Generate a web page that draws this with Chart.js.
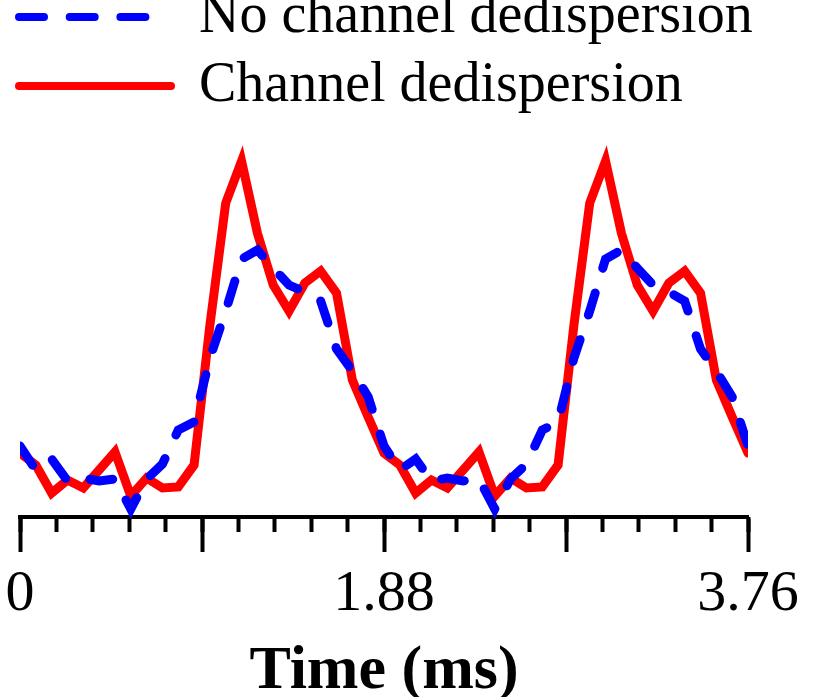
<!DOCTYPE html>
<html>
<head>
<meta charset="utf-8">
<script src="https://cdn.jsdelivr.net/npm/chart.js@4"></script>
<style>
  html, body { margin: 0; padding: 0; background: #fff; overflow: hidden; }
  #wrap { position: absolute; left: 0; top: -24px; width: 830px; height: 733px; }
</style>
</head>
<body>
<div id="wrap"><canvas id="chart"></canvas></div>
<script>
  // time bins (ms), 23 bins per 1.88 ms period, two periods shown
  const times = [
    0, 0.0817, 0.1635, 0.2452, 0.3270, 0.4087, 0.4904, 0.5722, 0.6539, 0.7357, 0.8174, 0.8991,
    0.9809, 1.0626, 1.1443, 1.2261, 1.3078, 1.3896, 1.4713, 1.5530, 1.6348, 1.7165, 1.7983,
    1.88, 1.9617, 2.0435, 2.1252, 2.2070, 2.2887, 2.3704, 2.4522, 2.5339, 2.6157, 2.6974, 2.7791,
    2.8609, 2.9426, 3.0243, 3.1061, 3.1878, 3.2696, 3.3513, 3.4330, 3.5148, 3.5965, 3.6783, 3.76
  ];

  // intensity, arbitrary units
  const noDedisp = [
    0.71, 0.47, 0.58, 0.36, 0.39, 0.36, 0.38, 0.08, 0.38, 0.53, 0.87, 0.95,
    1.59, 2.06, 2.58, 2.67, 2.49, 2.32, 2.25, 2.16, 1.68, 1.46, 1.20,
    0.71, 0.47, 0.58, 0.36, 0.39, 0.36, 0.38, 0.08, 0.38, 0.53, 0.87, 0.95,
    1.59, 2.06, 2.58, 2.67, 2.49, 2.32, 2.25, 2.16, 1.68, 1.46, 1.20, 0.71
  ];
  const chanDedisp = [
    0.64, 0.52, 0.24, 0.37, 0.29, 0.47, 0.65, 0.21, 0.39, 0.29, 0.30, 0.52,
    1.92, 3.14, 3.56, 2.84, 2.32, 2.06, 2.34, 2.46, 2.24, 1.37, 1.00,
    0.64, 0.52, 0.24, 0.37, 0.29, 0.47, 0.65, 0.21, 0.39, 0.29, 0.30, 0.52,
    1.92, 3.14, 3.56, 2.84, 2.32, 2.06, 2.34, 2.46, 2.24, 1.37, 1.00, 0.64
  ];

  const seriesNames = ['No channel dedispersion', 'Channel dedispersion'];
  const seriesColors = ['#0000ff', '#ff0000'];
  const seriesDash = [[23, 26], []];
  const tickLabels = ['0', '1.88', '3.76'];
  const majorStep = 0.94;
  const minorStep = 0.188;

  const LW = 9;
  const serif = '"Liberation Serif", "Times New Roman", serif';
  const pts = vals => vals.map((v, i) => ({ x: times[i], y: v }));

  // legend swatch: a short stroke in the series style (round caps, dashed or solid)
  function swatch(color, dash) {
    const c = document.createElement('canvas');
    c.width = 160; c.height = 12;
    const g = c.getContext('2d');
    g.strokeStyle = color;
    g.lineWidth = 8;
    g.lineCap = 'round';
    g.setLineDash(dash.length ? [25, 25.7] : []);
    g.beginPath();
    g.moveTo(4, 6);
    g.lineTo(156, 6);
    g.stroke();
    return c;
  }
  const swatches = seriesColors.map((c, i) => swatch(c, seriesDash[i]));

  const lineStyle = i => ({
    borderColor: seriesColors[i],
    borderWidth: LW,
    borderDash: seriesDash[i],
    borderCapStyle: 'round',
    pointRadius: 0,
    tension: 0,
    clip: { left: 0, right: 0, top: false, bottom: false },
  });

  new Chart(document.getElementById('chart'), {
    type: 'line',
    data: {
      datasets: [
        { label: seriesNames[0], data: pts(noDedisp), ...lineStyle(0) },
        { label: seriesNames[1], data: pts(chanDedisp), ...lineStyle(1) },
      ],
    },
    options: {
      responsive: true,
      maintainAspectRatio: false,
      animation: false,
      devicePixelRatio: 1,
      layout: { padding: { left: 6, right: 0, top: 0, bottom: 0 } },
      plugins: {
        tooltip: { enabled: false },
        legend: {
          position: 'top',
          align: 'start',
          labels: {
            usePointStyle: true,
            pointStyleWidth: 152,
            padding: 13,
            color: '#000',
            font: { family: serif, size: 56 },
            generateLabels: chart =>
              Chart.defaults.plugins.legend.labels.generateLabels(chart)
                .map((item, i) => ({ ...item, pointStyle: swatches[i] })),
          },
        },
      },
      scales: {
        x: {
          type: 'linear',
          position: 'bottom',
          min: 0,
          max: 3.76,
          border: { display: true, color: '#000', width: 4 },
          grid: { display: true, drawOnChartArea: false, drawTicks: true, tickLength: 35, tickWidth: 4, tickColor: '#000' },
          ticks: {
            stepSize: majorStep,
            autoSkip: false,
            maxRotation: 0,
            padding: 8,
            color: '#000',
            font: { family: serif, size: 58 },
            callback: v => {
              const i = Math.round(v / majorStep);
              return i % 2 === 0 ? tickLabels[i / 2] : '';
            },
          },
          title: {
            display: true,
            text: 'Time (ms)',
            color: '#000',
            padding: 0,
            font: { family: serif, size: 62, weight: 'bold' },
          },
          afterFit: s => { s.paddingLeft = 20; s.paddingRight = 82; s.height = 192; },
        },
        x2: {
          type: 'linear',
          axis: 'x',
          position: { y: 0 },
          min: 0,
          max: 3.76,
          border: { display: false },
          grid: { display: true, drawOnChartArea: false, drawTicks: true, tickLength: 15, tickWidth: 4, tickColor: '#000' },
          ticks: { display: false, stepSize: minorStep, autoSkip: false },
          afterFit: s => { s.paddingLeft = 0; s.paddingRight = 0; },
        },
        y: {
          display: false,
          min: 0,
          max: 3.93,
        },
      },
    },
  });
</script>
</body>
</html>
